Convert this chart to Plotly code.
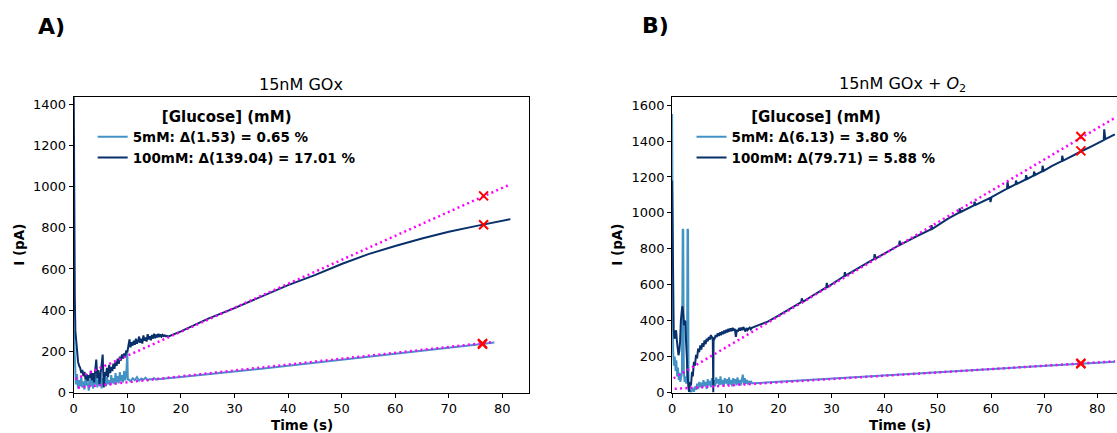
import numpy as np
import plotly.graph_objects as go

W, H = 1117, 433
FONT = "DejaVu Sans"
LIGHT = "#4292c6"
DARK = "#08306b"
MAG = "#ff00ff"

# ---------------- Panel A : 15nM GOx ----------------
# 5 mM (light blue)
A5_head_t0, A5_head_dt = 0.0, 0.2
A5_head = [300, 120, 40, 90, 20, 60, 30, 75, 25, 55, 15, 70, 35, 50, 10, 65, 30, 80, 20, 55,
           40, 85, 25, 60, 35, 90, 20, 70, 45, 95, 30, 75, 40, 60, 35, 85, 45, 70, 40, 95,
           50, 80, 45, 100, 55, 85, 50, 105, 60, 90]
A5_spike_t = [10.0, 10.1]
A5_spike = [195, 60]
A5_mid_t0, A5_mid_dt = 10.2, 0.4
A5_mid = [65, 55, 70, 60, 75, 58, 68, 62, 72, 60, 66, 64, 70, 63, 67, 66, 68]
A5_tail_t = [17, 20, 25, 30, 35, 40, 45, 50, 55, 60, 65, 70, 75, 78.5]
A5_tail = [68, 76, 88, 102, 116, 131, 146, 160, 175, 190, 204, 218, 232, 243]

# 100 mM (dark blue)
A100_head_t = [0, 0.1, 0.2, 0.3, 0.45, 0.6, 0.8, 1.0]
A100_head = [1440, 700, 462, 300, 250, 180, 150, 130]
A100_noise_t0, A100_noise_dt = 1.2, 0.2
A100_noise = [120, 95, 110, 80, 100, 65, 90, 55, 85, 70, 105, 60, 95, 50, 120, 160, 70, 110, 40, 95,
              130, 185, 25, 100, 80, 120, 75, 135, 95, 125, 105, 140, 115, 150, 130, 165, 140, 175, 155, 185]
A100_band_t0, A100_band_dt = 9.2, 0.2
A100_band = [165, 190, 175, 205, 195, 235, 258, 220, 245, 228, 252, 232, 262, 238, 248, 272, 242, 262, 238, 278,
             252, 268, 248, 284, 258, 274, 254, 280, 262, 286, 264, 282, 268, 286, 270, 282, 272, 280, 274, 278,
             273, 275]
A100_tail_t = [17.6, 20, 25, 30, 35, 40, 45, 50, 55, 60, 65, 70, 75, 81.5]
A100_tail = [272, 297, 358, 410, 467, 522, 570, 624, 672, 712, 748, 781, 808, 842]

# linear fits (dotted magenta)
A5_fit_t = [0.8, 78.5]
A5_fit = [24, 246]
A100_fit_t = [0.3, 81.5]
A100_fit = [66, 1011]

# check points (red x)
A_chk_t = [76.5, 76.5, 76.3, 76.3]
A_chk = [955, 815, 239, 235]

# ---------------- Panel B : 15nM GOx + O2 ----------------
B5_head_t = [0.0, 0.1, 0.2, 0.35, 0.5, 0.65, 0.8, 0.95, 1.1, 1.25, 1.4, 1.55, 1.7, 1.85, 2.0, 2.1, 2.2,
             2.35, 2.5, 2.65, 2.8, 2.9, 3.0, 3.1, 3.25, 3.4, 3.55, 3.7]
B5_head = [1550, 650, 230, 150, 200, 120, 180, 90, 140, 70, 110, 60, 95, 110, 910, 905, 120,
           60, 90, 50, 70, 910, 905, 30, 5, 15, 0, 10]
B5_noise_t0, B5_noise_dt = 3.9, 0.2
B5_noise = [25, 5, 35, 15, 50, 20, 60, 30, 55, 25, 70, 35, 60, 20, 75, 40, 65, 30, 80, 45,
            70, 35, 85, 50, 75, 40, 90, 45, 70, 35, 80, 50, 75, 40, 85, 45, 70, 35, 80, 50,
            75, 40, 85, 45, 70, 40, 75, 100, 45, 80, 50, 70, 45, 65, 50, 60, 52]
B5_tail_t = [15.4, 20, 25, 30, 35, 40, 45, 50, 55, 60, 65, 70, 75, 80, 83.3]
B5_tail = [52, 60, 69, 77, 86, 95, 104, 113, 122, 131, 140, 149, 158, 166, 172]

B100_head_t = [0.0, 0.1, 0.2, 0.3, 0.45, 0.6, 0.75, 0.9, 1.05, 1.2, 1.35, 1.5, 1.65, 1.75, 1.9, 2.0,
               2.1, 2.25, 2.4, 2.5, 2.6, 2.7, 2.85, 3.0, 3.15, 3.25, 3.4, 3.55, 3.75, 3.9, 4.1, 4.3,
               4.5, 4.7, 4.9, 5.1, 5.3, 5.5, 5.7, 5.9, 6.1, 6.3, 6.5, 6.7, 6.9, 7.1, 7.3, 7.5, 7.65,
               7.7, 7.75, 7.8]
B100_head = [1180, 700, 420, 356, 300, 330, 347, 290, 240, 208, 230, 282, 400, 467, 480, 470,
             420, 375, 400, 393, 300, 208, 120, 59, 10, 4, 59, 40, 115, 90, 171, 150,
             210, 190, 245, 225, 263, 240, 275, 255, 290, 270, 300, 285, 310, 295, 320, 305, 310,
             0, 0, 290]
B100_band_t0, B100_band_dt = 8.0, 0.2
B100_band = [300, 320, 310, 330, 315, 335, 320, 340, 325, 345, 330, 350, 335, 355, 340, 358, 342, 360, 345, 355,
             310, 350, 340, 360, 345, 362, 348, 365, 350, 340, 360, 348, 356, 362, 352]
B100_tail_t = [15.0, 16.5, 18.0, 20.0, 22.0, 24.3, 24.4, 24.6, 27.0, 29.0, 29.1, 29.3, 32.4, 32.5, 32.7,
               35.0, 38.0, 38.1, 38.3, 40.0, 42.7, 42.8, 43.0, 46.0, 48.7, 48.8, 48.95, 52.0, 54.0, 54.1,
               54.3, 56.8, 56.9, 57.1, 59.8, 59.9, 60.1, 63.0, 63.1, 63.3, 64.6, 64.7, 64.9, 66.5, 66.6,
               66.8, 68.0, 68.1, 68.3, 69.6, 69.7, 69.9, 71.5, 73.3, 73.4, 73.6, 75.5, 77.0, 79.0, 81.2,
               81.3, 81.5, 83.3]
B100_tail = [360, 378, 395, 428, 463, 503, 525, 505, 550, 585, 610, 588, 649, 670, 652,
             693, 744, 770, 747, 775, 820, 845, 824, 870, 908, 932, 911, 970, 1002, 1025,
             1005, 1042, 1062, 1045, 1083, 1060, 1088, 1135, 1172, 1139, 1159, 1180, 1162, 1186, 1210,
             1189, 1208, 1230, 1211, 1231, 1262, 1234, 1262, 1288, 1318, 1291, 1322, 1343, 1372, 1405,
             1465, 1410, 1437]

B5_fit_t = [0.5, 83.3]
B5_fit = [21, 174]
B100_fit_t = [0.3, 83.3]
B100_fit = [80, 1529]

B_chk_t = [76.9, 76.9, 76.9, 76.9]
B_chk = [1425, 1345, 163, 160]

LEG_A = ["<b>5mM: Δ(1.53) = 0.65 %</b>", "<b>100mM: Δ(139.04) = 17.01 %</b>"]
LEG_B = ["<b>5mM: Δ(6.13) = 3.80 %</b>", "<b>100mM: Δ(79.71) = 5.88 %</b>"]
LEG_TITLE = "<b>[Glucose] (mM)</b>"


def seq(t0, dt, vals):
    return list(t0 + dt * np.arange(len(vals)))


def px(x):
    return x / W


def py(y):
    return 1 - y / H


A5_t = seq(A5_head_t0, A5_head_dt, A5_head) + A5_spike_t + seq(A5_mid_t0, A5_mid_dt, A5_mid) + A5_tail_t
A5_v = A5_head + A5_spike + A5_mid + A5_tail
A100_t = A100_head_t + seq(A100_noise_t0, A100_noise_dt, A100_noise) + seq(A100_band_t0, A100_band_dt, A100_band) + A100_tail_t
A100_v = A100_head + A100_noise + A100_band + A100_tail
B5_t = B5_head_t + seq(B5_noise_t0, B5_noise_dt, B5_noise) + B5_tail_t
B5_v = B5_head + B5_noise + B5_tail
B100_t = B100_head_t + seq(B100_band_t0, B100_band_dt, B100_band) + B100_tail_t
B100_v = B100_head + B100_band + B100_tail

fig = go.Figure()


def add_panel(xa, ya, leg, t5, v5, t100, v100, f5t, f5, f100t, f100, ct, cv, names):
    fig.add_trace(go.Scatter(x=t5, y=v5, mode="lines", line=dict(color=LIGHT, width=2),
                             name=names[0], legend=leg, xaxis=xa, yaxis=ya))
    fig.add_trace(go.Scatter(x=t100, y=v100, mode="lines", line=dict(color=DARK, width=2),
                             name=names[1], legend=leg, xaxis=xa, yaxis=ya))
    for ft, fv in ((f5t, f5), (f100t, f100)):
        fig.add_trace(go.Scatter(x=ft, y=fv, mode="lines", showlegend=False,
                                 line=dict(color=MAG, width=2.5, dash="2px,3.3px"),
                                 xaxis=xa, yaxis=ya))
    fig.add_trace(go.Scatter(x=ct, y=cv, mode="markers", showlegend=False,
                             marker=dict(symbol="x-thin", size=9, line=dict(color="red", width=2)),
                             xaxis=xa, yaxis=ya))


add_panel("x", "y", "legend", A5_t, A5_v, A100_t, A100_v, A5_fit_t, A5_fit, A100_fit_t, A100_fit,
          A_chk_t, A_chk, LEG_A)
add_panel("x2", "y2", "legend2", B5_t, B5_v, B100_t, B100_v, B5_fit_t, B5_fit, B100_fit_t, B100_fit,
          B_chk_t, B_chk, LEG_B)

axis_common = dict(showline=True, linecolor="black", linewidth=1, ticks="outside", ticklen=4,
                   tickcolor="black", showgrid=False, zeroline=False,
                   tickfont=dict(family=FONT, size=13, color="black"))

y_top, y_bot = 99, 400
legend_common = dict(xanchor="left", yanchor="top", bgcolor="rgba(0,0,0,0)",
                     font=dict(family=FONT, size=13.5, color="black"),
                     title=dict(text=LEG_TITLE, side="top center", font=dict(family=FONT, size=15)),
                     tracegroupgap=0, itemwidth=30)

fig.update_layout(
    width=W, height=H, margin=dict(l=0, r=0, t=0, b=0),
    paper_bgcolor="white", plot_bgcolor="white", showlegend=True,
    xaxis=dict(domain=[px(70), px(527)], range=[0, 85], tickvals=list(range(0, 81, 10)),
               anchor="y", mirror=True, **axis_common),
    yaxis=dict(domain=[py(y_bot), py(y_top)], range=[0, 1434], tickvals=list(range(0, 1401, 200)),
               anchor="x", mirror=True, **axis_common),
    xaxis2=dict(domain=[px(670.5), 1.0], range=[0, 83.7], tickvals=list(range(0, 81, 10)),
                anchor="y2", mirror=True, **axis_common),
    yaxis2=dict(domain=[py(y_bot), py(y_top)], range=[0, 1644], tickvals=list(range(0, 1601, 200)),
                anchor="x2", mirror=False, **axis_common),
    legend=dict(x=px(89), y=py(104), **legend_common),
    legend2=dict(x=px(690), y=py(104), **legend_common),
)

ann = [
    dict(text="<b>A)</b>", x=px(47.5), y=py(27.5), size=22),
    dict(text="<b>B)</b>", x=px(654), y=py(25.5), size=22),
    dict(text="15nM GOx", x=px(298.5), y=py(85.7), size=16),
    dict(text="15nM GOx + <i>O</i><sub>2</sub>", x=px(902), y=py(85.7), size=16),
    dict(text="<b>Time (s)</b>", x=px(299), y=py(433), size=13.5),
    dict(text="<b>Time (s)</b>", x=px(899), y=py(433), size=13.5),
    dict(text="<b>I (pA)</b>", x=px(15.5), y=py(249), size=13.5, angle=-90),
    dict(text="<b>I (pA)</b>", x=px(615.5), y=py(249), size=13.5, angle=-90),
]
for a in ann:
    fig.add_annotation(text=a["text"], x=a["x"], y=a["y"], xref="paper", yref="paper",
                       xanchor="center", yanchor="middle", showarrow=False,
                       textangle=a.get("angle", 0),
                       font=dict(family=FONT, size=a["size"], color="black"))

fig.write_html("out.html")
